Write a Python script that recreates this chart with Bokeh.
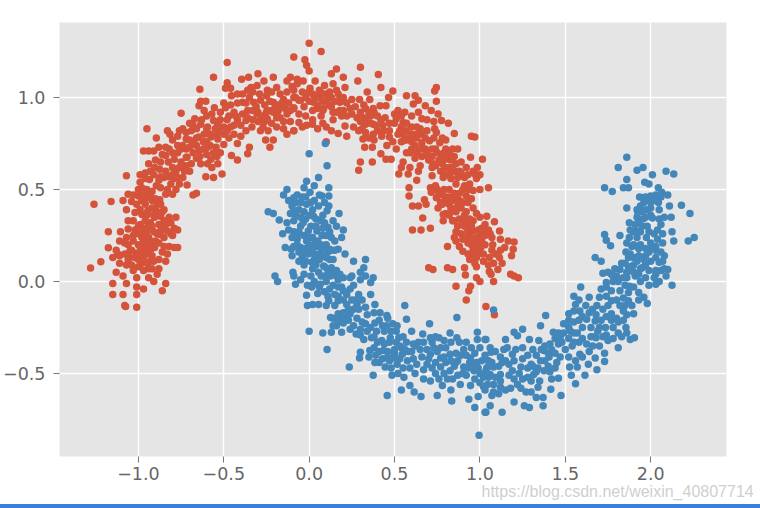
from bokeh.plotting import figure
from bokeh.layouts import column
from bokeh.embed import file_html
from bokeh.resources import INLINE
from bokeh.models import FixedTicker, Title, Div

# tick labels
x_ticks = [-1.0, -0.5, 0.0, 0.5, 1.0, 1.5, 2.0]
y_ticks = [-0.5, 0.0, 0.5, 1.0]
x_tick_labels = ["\u22121.0", "\u22120.5", "0.0", "0.5", "1.0", "1.5", "2.0"]
y_tick_labels = ["\u22120.5", "0.0", "0.5", "1.0"]

# upper moon
red_tail = [(-1.01,-.14),(-1.08,-.13),(-1.075,-.135),(-1.15,-.07),(-1.09,-.07),(-1.15,-.01),(-1.01,-.07),(-1.01,-.03),(-.97,-.04),(-1.01,.02),
 (-.94,.02),(-.91,0),(-.86,-.05),(-.84,-.01),(-1.13,.05),(-1.09,.03),(-1.07,-.01),(-1.07,.09),(-1.04,.09),(-.98,.10),(-.92,.07),(-.88,.07),
 (-.89,.04),(-.88,.12),(-.84,.11),(-.93,.11),(-1.28,.073),(-1.22,.107),(-1.15,.13),(-1.12,.15),(-1.08,.15),(-1.05,.165),(-1.01,.155),(-.98,.165),
 (-.95,.15),(-1.0,.20),(-.96,.20),(-.92,.20),(-1.08,.21),(-1.03,.22),(-.98,.24),(-.94,.24),(-.905,.185),(-.95,.275),(-.99,.31),(-1.06,.285),
 (-.82,.19),(-.79,.185),(-.77,.185),(-.87,.275),(-.83,.275),(-.85,.24),(-.77,.28),(-.78,.35),(-.81,.32),(-.875,.255),(-.80,.25),(-1.176,.271),
 (-1.105,.271),(-1.176,.184),(-.97,.22),(-.95,.18),(-.93,.17),(-.97,.13),(-1.0,.12),(-.96,.26)]
red_left = [(-1.26,.42),(-1.16,.435),(-1.09,.44),(-1.06,.475),(-1.04,.435),(-1.07,.39),(-1.02,.375),(-.98,.365),(-.93,.32),(-.905,.35),(-.87,.355),
 (-.85,.39),(-.89,.42),(-.92,.44),(-.96,.42),(-1.0,.465),(-.98,.51),(-.95,.455),(-.875,.445),(-.84,.475),(-.80,.475),(-.68,.47),(-.66,.48),(-.895,.385),
 (-.945,.385),(-.98,.44),(-1.07,.575),(-.99,.58),(-.96,.59),(-.905,.62),(-.875,.61),(-.935,.555),(-.895,.52),(-.87,.51),(-.85,.565),(-.81,.53),
 (-.78,.50),(-.77,.565),(-.74,.565),(-.715,.525),(-.70,.60),(-.78,.60),(-.825,.65),(-.79,.665),(-.75,.65),(-.715,.675),(-.94,.71),(-.97,.71),
 (-.91,.71),(-.88,.73),(-.895,.78),(-.95,.83),(-.84,.73),(-.84,.685),(-.83,.82),(-.815,.80),(-.77,.74),(-.76,.82),(-.72,.81),(-.69,.82),(-.72,.775),
 (-.68,.755),(-.645,.785),(-.615,.80),(-.595,.73),(-.645,.71),(-.68,.70),(-.72,.675),(-.635,.64),(-.595,.64),(-.605,.57),(-.56,.565),(-.51,.585),
 (-.535,.64),(-.575,.665),(-.545,.73),(-.535,.775),(-.50,.745),(-.575,.785),(-.455,.685),(-.42,.66),(-.36,.695),(-.35,.73),(-.42,.75),(-.40,.79),
 (-.44,.80),(-.48,.82),(-.50,.84),(-.535,.855),(-.56,.875),(-.595,.84),(-.635,.855),(-.67,.885),(-.68,.85),(-.75,.915),(-.64,1.045),(-.56,1.11),
 (-.48,1.19),(-.49,1.05),(-.48,1.08),(-.455,1.01),(-.635,.98),(-.605,.98),(-.645,.955),(-.615,.93),(-.555,.945),(-.49,.945),(-.44,.92),(-.39,1.02),
 (-.39,.975),(-.36,.93),(-.325,.975),(-.285,.985),(-.245,.93),(-.21,.975),(-.17,.955),(-.19,1.055),(-.13,1.09),(-.11,1.11),(-.09,1.22),(-.21,1.11),
 (-.30,1.13),(-.355,1.11),(-.395,1.10),(-.34,1.055),(-.305,1.065),(-.265,1.09),(-.245,1.04),(-.255,.77),(-.21,.77),(-.23,.73),(-.285,.82),(-.19,.84),
 (-.15,.83),(-.09,.82),(-.335,.84),(-.37,.875),(-.305,.91),(-.245,.885),(-.19,.89),(-.13,.91),(-.09,.945),(-.07,1.075),(-.06,.985),(-.62,.76),
 (-.66,.74),(-.60,.69),(-.54,.80),(-.47,.90),(-.42,.88),(-.33,.93),(-.26,.96),(-.18,.93),(-.23,.98),(-.15,.99),(-.74,.74),(-.80,.58),(-.87,.57)]
red_top = [(0,1.295),(.07,1.25),(-.025,1.205),(-.015,1.175),(0,1.145),(.16,1.155),(.13,1.13),(.30,1.165),(.405,1.125),(.285,1.09),(.42,1.055),(.20,1.11),
 (.14,1.075),(.09,1.065),(.035,1.09),(-.035,1.09),(-.07,1.10),(-.09,1.04),(.005,1.05),(.065,1.03),(.11,1.01),(.16,1.04),(.21,1.055),(.18,.99),(.25,.99),
 (.295,.99),(.34,1.03),(.355,.99),(.49,1.035),(.465,1.0),(.57,1.01),(.62,1.01),(.745,1.055),(.735,1.035),(.745,.98),(-.05,.985),(-.09,.94),(.025,.975),
 (.045,.94),(.085,.94),(.14,.92),(.18,.975),(.19,.90),(.25,.91),(.33,.94),(.375,.94),(.415,.955),(.45,.955),(.52,.93),(.56,.92),(.61,.965),(.64,.985),
 (.68,.955),(.715,.93),(.755,.91),(.775,.875),(.815,.86),(.445,.89),(.335,.875),(.375,.855),(.31,.83),(.33,.855),(.51,.885),(.55,.865),(.66,.885),(.57,.82),
 (.65,.83),(.69,.82),(.735,.83),(.745,.81),(.85,.805),(.95,.79),(.97,.785),(-.09,.82),(-.06,.865),(-.015,.85),(.02,.855),(.10,.84),(.13,.82),(.17,.805),
 (.22,.79),(.21,.845),(.10,.76),(.29,.82),(.315,.775),(.325,.73),(.37,.73),(.375,.80),(.425,.79),(.47,.785),(.455,.74),(.51,.72),(.42,.695),(.45,.665),
 (.48,.665),(.30,.65),(.37,.65),(.29,.605),(.55,.765),(.59,.785),(.62,.74),(.57,.70),(.55,.65),(.54,.62),(.525,.585),(.59,.62),(.58,.585),(.65,.63),(.64,.60),
 (.63,.55),(.66,.755),(.705,.765),(.685,.685),(.725,.64),(.72,.575),(.765,.755),(.775,.69),(.84,.72),(.815,.665),(.85,.68),(.795,.62),(.825,.585),(.785,.565),
 (.87,.565),(.91,.565),(.945,.675),(1.015,.665),(.985,.62),(.97,.585),(.86,.64),(.89,.59),(.06,1.0),(.03,1.01),(.10,.98),(.12,.96),(.0,.98),(.07,.90),
 (.60,.90),(.63,.84),(.60,.72),(.68,.72),(.74,.72),(.79,.70),(.78,.64),(.84,.62),(.83,.66),(.36,.90),(.40,.90),(.54,.84),(.60,.84)]
red_right = [(.585,.51),(.585,.465),(.605,.41),(.64,.41),(.675,.445),(.685,.42),(.71,.51),(.715,.485),(.745,.455),(.755,.40),(.805,.44),(.785,.365),(.84,.385),
 (.88,.44),(.92,.465),(.96,.40),(.96,.495),(1.0,.50),(1.05,.51),(1.04,.355),(.89,.40),(.84,.33),(.785,.33),(.90,.33),(.96,.33),(1.01,.29),(1.085,.325),(1.115,.275),
 (.665,.345),(.605,.28),(.655,.28),(.71,.29),(.81,.19),(.86,.22),(.90,.165),(.95,.20),(.99,.24),(.96,.275),(1.005,.185),(.98,.13),(1.075,.20),(1.055,.13),(1.115,.13),
 (1.165,.22),(1.20,.215),(1.195,.175),(1.185,.14),(1.145,.185),(.70,.075),(.725,.065),(.81,.075),(.84,.065),(.91,.075),(.915,.035),(.98,.08),(1.055,.055),(1.105,.065),
 (1.065,.04),(.98,.02),(1.0,0),(1.08,0),(1.18,.04),(1.20,.03),(1.225,.02),(.86,-.025),(.945,-.025),(.935,-.05),(.92,-.10),(1.035,-.135),(1.085,-.18),(.94,.25),
 (.97,.22),(1.0,.25),(.93,.28),(.98,.18),(.93,.15),(1.02,.15),(.82,.42),(.86,.38),(.91,.36),(.87,.30),(.93,.43),(1.0,.35),(.82,.46),(.77,.43),(1.05,.28)]
# the dense middle of the upper moon
red_dense_a = [(-.99,.26),(-1.02,.28),(-.97,.29),(-.94,.31),(-.96,.33),(-1.0,.26),(-.93,.22),(-.90,.22),(-.89,.26),(-.86,.30),(-.84,.31),(-.85,.33),(-1.04,.17),(-1.02,.13),(-1.05,.13),
 (-1.11,.14),(-.98,.13),(-.95,.10),(-.92,.14),(-.99,.19),(-1.0,.08),(-.90,.45),(-.92,.40),(-.95,.36),(-.90,.38),(-.87,.42),(-.86,.38),(-.88,.36),(-.91,.36),(-.93,.47),(-.97,.47),(-1.01,.42),
 (-.99,.39),(-.95,.50),(-.98,.47),(-.92,.49),(-.88,.55),(-.91,.58),(-.93,.60),(-.96,.56),(-.84,.60),(-.82,.57),(-.79,.56),(-.83,.50),(-.76,.53),(-.80,.62),(-.76,.62),(-.73,.60),(-.72,.63),
 (-.77,.70),(-.80,.70),(-.75,.72),(-.72,.72),(-.70,.73),(-.66,.78),(-.70,.77),(-.66,.67),(-.69,.64),(-.64,.68),(-.60,.76),(-.58,.74),(-.62,.72),(-.56,.70),(-.54,.68),(-.57,.62),(-.52,.70),
 (-.50,.80),(-.47,.78),(-.46,.84),(-.53,.82),(-.55,.83),(-.58,.80),(-.60,.83),(-.52,.88),(-.48,.88),(-.44,.85),(-.40,.85),(-.37,.82),(-.43,.90),(-.39,.91),(-.36,.89),(-.33,.88),(-.30,.87),
 (-.28,.88),(-.27,.90),(-.25,.92),(-.22,.93),(-.20,.94),(-.18,.96),(-.16,.97),(-.14,.94),(-.11,.93),(-.12,.97),(-.09,1.0),(-.21,.92),(-.19,.91),(-.17,.89),(-.22,.86),(-.27,.84),(-.31,.95),
 (-.29,1.02),(-.35,1.0),(-.37,.97),(-.33,1.03),(-.25,1.01),(-.22,1.03),(-.17,1.02),(-.13,1.03),(-.10,1.06),(-.08,1.0)]
red_dense_b = [(-.04,1.03),(-.02,1.0),(0.0,1.03),(.02,1.02),(.04,1.0),(.06,1.04),(.08,.98),(.09,1.02),(.12,1.03),(.13,1.0),(.15,.98),(.17,1.02),(.20,1.0),(.22,.97),(.05,.96),(.08,.93),(.02,.93),
 (-.02,.90),(.18,.93),(.14,.88),(.22,.90),(.30,.92),(.32,.96),(.35,.92),(.38,.92),(.32,.89),(.36,.86),(.39,.85),(.42,.88),(.47,.86),(.50,.91),(.54,.90),(.50,.86),(.53,.82),(.55,.80),(.57,.86),
 (.60,.80),(.63,.80),(.66,.80),(.63,.78),(.67,.72),(.63,.70),(.60,.76),(.66,.68),(.69,.70),(.72,.72),(.75,.70),(.72,.68),(.76,.66),(.79,.67),(.80,.72),(.82,.70),(.84,.67),(.82,.62),(.85,.60),
 (.80,.58),(.83,.56),(.86,.53),(.88,.60),(.91,.52),(.94,.53),(.96,.60),(.98,.56),(.76,.48),(.79,.50),(.82,.50),(.85,.48),(.88,.48),(.90,.50),(.93,.50),(.95,.45),(.78,.42),(.83,.40),(.87,.41),
 (.80,.37),(.88,.34),(.92,.38),(.94,.34),(.98,.37),(.91,.30),(.86,.27),(.89,.26),(.92,.24),(.95,.23),(.93,.21),(.96,.17),(.99,.20),(1.01,.22),(.98,.24),(.96,.14),(.99,.15),(.94,.12),(1.02,.27),
 (1.06,.26),(1.07,.17),(1.09,.15),(1.12,.17),(1.03,.20),(.97,.10),(1.08,.10),(.88,.19),(.93,.27),(1.03,.31)]
red_dense_c = [(-1.11,.22),(-1.06,.20),(-1.13,.17),(-1.03,.25),(-1.07,.24),(-1.0,.30),(-1.03,.33),(-1.06,.33),(-.91,.27),(-.92,.30),(-.88,.31),(-.85,.19),(-.88,.21),(-.86,.16),(-.83,.15),(-.81,.26),
 (-.79,.29),(-.82,.35),(-.97,.06),(-.94,.07),(-.91,.11),(-1.03,.06),(-1.06,.12),(-1.11,.10),(-1.0,.50),(-1.03,.47),(-.99,.54),(-.94,.64),(-.90,.66),(-.87,.65),(-.86,.69),(-.82,.72),(-.80,.77),
 (-.77,.79),(-.74,.83),(-.70,.86),(-.66,.83),(-.63,.88),(-.60,.90),(-.57,.91),(-.52,.92),(-.50,.97),(-.46,.96),(-.42,.97),(-.42,1.02),(-.46,1.05),(-.36,1.04),(-.30,.92),(-.26,.87),(-.24,.82),
 (-.15,.87),(-.11,.87),(-.06,.91),(-.03,.95),(-.13,.80),(-.04,.84),(.02,.88),(.05,.83),(.08,.86),(.13,.95),(.16,.92),(.20,.93),(.24,.94),(.27,.95),(.28,.89),(.26,.84),(.30,.87),(.33,.81),(.35,.78),
 (.38,.77),(.40,.82),(.43,.85),(.44,.82),(.47,.82),(.49,.76),(.52,.80),(.54,.76),(.57,.77),(.59,.70),(.62,.67),(.65,.72),(.70,.66),(.74,.63),(.77,.60),(.72,.62),(.68,.78),(.73,.78),(.78,.78),
 (.80,.77),(.64,.92),(.69,.88),(.73,.87),(.87,.72),(.89,.65),(.92,.62),(.93,.58),(1.0,.58),(.75,.50),(.74,.52),(.80,.46),(.78,.47),(.84,.44),(.86,.46),(.90,.43),(.82,.36),(.85,.33),(.92,.32),
 (.95,.30),(.85,.24),(.90,.23),(.99,.28),(1.03,.25),(1.02,.11),(1.05,.09),(1.13,.10),(1.12,.23),(1.07,.24)]

# lower moon
blue_left = [(.095,.75),(0,.695),(.105,.63),(.055,.565),(-.015,.545),(.03,.52),(.115,.51),(-.13,.50),(-.15,.47),(-.03,.51),(-.09,.455),(.005,.485),(.075,.465),(.115,.465),
 (-.05,.43),(-.09,.385),(-.015,.42),(.055,.41),(.115,.41),(.025,.355),(.105,.385),(.175,.37),(-.24,.38),(-.21,.37),(-.175,.335),(-.13,.32),(-.09,.33),(-.035,.32),(.14,.33),
 (.11,.295),(.20,.28),(-.155,.26),(.19,.24),(-.005,.275),(.045,.275),(-.07,.23),(.075,.25),(.13,.24),(-.14,.185),(-.105,.175),(-.05,.185),(-.015,.22),(.025,.20),(.065,.185),
 (.12,.175),(.17,.175),(.21,.15),(-.04,.13),(-.005,.15),(.045,.13),(.10,.13),(-.03,.09),(.015,.105),(.085,.085),(.13,.075),(.18,.04),(.055,.05),(.125,.03),(.26,.11),(.33,.12),
 (.32,.075),(.30,.05),(.25,.03),(.24,.02),(.375,.02),(.36,-.005),(-.20,.03),(-.185,0),(-.095,.05),(-.09,.03),(-.08,-.015),(-.05,.01),(.025,-.015),(.065,-.015),(.015,-.03),
 (-.015,-.075),(.05,-.065),(.09,-.055),(-.01,-.13),(.02,-.125),(.055,-.125),(.19,-.03),(.24,-.04),(.29,-.07),(.15,-.07),(.115,-.105),(.17,-.105),(.22,-.125),(.28,-.125),(.33,-.14),
 (.36,-.07),(.385,-.125),(.415,-.17),(.455,-.185),(.56,-.13),(.57,-.205),(.125,-.195),(.17,-.175),(.24,-.175),(.14,-.24),(.20,-.225),(.26,-.24),(.33,-.23),(.385,-.225),(.13,-.275),
 (.19,-.275),(.275,-.285),(.34,-.27),(.395,-.27),(.32,-.315),(.365,-.305),(0,-.27),(.08,-.28),(.105,-.37),(.02,.16),(.04,.19),(.06,.15),(.02,.24),(.03,.12),(.08,.18),(.07,.33),(.22,-.20),(.17,-.22)]
blue_mid = [(.455,-.24),(.515,-.24),(.425,-.32),(.475,-.305),(.525,-.305),(.435,-.375),(.30,-.385),(.355,-.375),(.295,-.415),(.385,-.44),(.235,-.465),(.375,-.51),(.445,-.465),(.495,-.415),
 (.545,-.395),(.515,-.45),(.575,-.43),(.485,-.51),(.555,-.52),(.62,-.50),(.61,-.34),(.60,-.27),(.665,-.285),(.705,-.23),(.865,-.195),(.71,-.305),(.76,-.305),(.825,-.28),(.865,-.305),(.65,-.37),
 (.71,-.395),(.77,-.415),(.825,-.395),(.905,-.37),(.985,-.275),(.985,-.315),(1.03,-.315),(1.00,-.36),(.945,-.415),(1.01,-.43),(.69,-.45),(.77,-.465),(.825,-.485),(.905,-.465),(.965,-.485),
 (1.06,-.505),(.67,-.53),(.78,-.565),(.885,-.56),(.945,-.565),(1.02,-.52),(.54,-.59),(.457,-.62),(.59,-.565),(.615,-.60),(.655,-.625),(.75,-.62),(.83,-.59),(.835,-.65),(.935,-.64),(.99,-.625),
 (.97,-.685),(1.03,-.71),(.995,-.835),(.50,-.37),(.54,-.36),(.46,-.41),(.58,-.38),(.74,-.44),(.80,-.44),(.86,-.44),(.92,-.51),(.98,-.44),(1.05,-.46)]
blue_bottom = [(1.035,-.315),(1.15,-.315),(1.14,-.37),(1.065,-.385),(1.19,-.395),(1.20,-.275),(1.25,-.26),(1.22,-.295),(1.29,-.315),(1.355,-.24),(1.385,-.185),(1.345,-.32),(1.375,-.375),
 (1.43,-.275),(1.47,-.305),(1.42,-.37),(1.46,-.34),(1.035,-.485),(1.08,-.465),(1.12,-.505),(1.19,-.485),(1.24,-.465),(1.30,-.45),(1.355,-.43),(1.405,-.41),(1.45,-.44),(1.315,-.505),(1.375,-.485),
 (1.42,-.53),(1.46,-.525),(1.045,-.56),(1.08,-.60),(1.12,-.575),(1.22,-.56),(1.27,-.60),(1.34,-.575),(1.415,-.585),(1.475,-.62),(1.37,-.63),(1.37,-.675),(1.20,-.655),(1.26,-.675),(1.29,-.685),
 (1.06,-.675),(1.035,-.71),(1.13,-.71),(1.525,-.465),(1.535,-.51),(1.57,-.465),(1.56,-.555),(1.615,-.51),(1.635,-.45),(1.685,-.48),(1.73,-.435),(1.73,-.39),(1.675,-.415),(1.09,-.52),(1.05,-.43),
 (1.28,-.52),(1.34,-.47),(1.40,-.46),(1.33,-.40),(1.08,-.155)]
blue_right = [(1.49,-.23),(1.52,-.175),(1.56,-.125),(1.585,-.16),(1.625,-.205),(1.59,-.03),(1.64,-.085),(1.53,-.27),(1.54,-.35),(1.585,-.395),(1.625,-.34),(1.68,-.305),(1.75,-.32),(1.81,-.36),
 (1.675,-.215),(1.735,-.25),(1.685,-.13),(1.70,-.085),(1.74,-.005),(1.72,.045),(1.77,-.105),(1.77,-.175),(1.81,-.28),(1.855,-.25),(1.905,-.305),(1.88,-.315),(1.90,-.175),(1.84,-.16),(1.82,-.05),
 (1.87,-.105),(1.875,-.025),(1.93,-.06),(1.98,-.12),(1.96,-.085),(1.93,.04),(1.82,.065),(1.855,.16),(1.90,.13),(1.97,.14),(1.95,.075),(2.03,-.015),(2.09,.03),(2.10,.065),(2.125,-.02),(1.675,.13),
 (1.71,.11),(1.765,.195),(1.73,.255),(1.74,.225),(1.82,.25),(1.875,.32),(1.915,.275),(1.955,.34),(1.875,.24),(1.975,.24),(2.01,.185),(2.07,.21),(2.08,.14),(2.05,.105),(2.135,.22),(2.125,.27),
 (2.22,.22),(2.255,.24),(2.23,.37),(2.18,.415),(2.12,.35),(2.11,.41),(2.06,.31),(2.01,.345),(1.925,.375),(1.975,.39),(1.86,.40),(2.045,.43),(2.00,.43),(1.955,.455),(1.935,.46),(2.00,.465),
 (2.065,.485),(2.10,.47),(2.045,.51),(1.965,.54),(1.99,.53),(2.01,.58),(2.09,.60),(2.135,.585),(1.955,.62),(1.92,.605),(1.86,.675),(1.81,.62),(1.86,.555),(1.73,.51),(1.775,.49),(1.84,.51),(1.87,.51),
 (1.78,.03),(1.86,.02),(1.90,.05),(1.94,.20),(1.90,.20),(2.03,.06),(1.80,-.20),(1.70,-.25),(1.60,-.25),(1.65,-.30)]
# the dense middle of the lower moon
blue_dense_a = [(-.08,.43),(-.07,.47),(-.04,.46),(-.06,.39),(-.02,.46),(.01,.43),(.03,.44),(.06,.47),(.09,.43),(-.12,.44),(-.10,.41),(-.03,.38),(.02,.39),(.08,.36),(-.06,.27),(-.05,.30),(-.07,.20),
 (-.06,.16),(-.03,.15),(-.02,.18),(.0,.20),(.0,.24),(.01,.17),(.03,.15),(.05,.22),(.06,.12),(.04,.09),(.08,.14),(.07,.20),(.10,.20),(.11,.16),(.13,.17),(.15,.17),(.12,.12),(.14,.12),(.09,.08),
 (.11,.06),(.14,.05),(.16,.06),(.07,.03),(.09,.03),(.16,.03),(.10,.0),(.17,-.03),(.20,-.05),(.22,-.07),(.17,-.08),(.20,-.10),(.25,-.10),(.27,-.10),(.26,-.15),(.29,-.15),(.23,-.15),(.20,-.17),
 (.14,-.20),(.18,-.20),(.23,-.21),(.28,-.20),(.31,-.22),(.16,-.24),(.24,-.26),(.30,-.26),(.36,-.25),(.38,-.30),(.30,-.29),(.44,-.27),(.48,-.27),(.47,-.33),(.51,-.33),(.44,-.34),(.40,-.33),
 (.46,-.38),(.50,-.39),(.43,-.42),(.47,-.43),(.39,-.40),(.35,-.41),(.41,-.44),(.53,-.42),(.53,-.35),(.57,-.33),(.60,-.38),(.62,-.35),(.64,-.33),(.67,-.33),(.66,-.41),(.69,-.37),(.70,-.42)]
blue_dense_b = [(.73,-.36),(.75,-.38),(.77,-.36),(.80,-.36),(.79,-.41),(.83,-.43),(.85,-.46),(.87,-.43),(.86,-.39),(.89,-.40),(.92,-.40),(.94,-.44),(.90,-.50),(.96,-.45),(.93,-.47),(.99,-.47),(1.0,-.50),
 (1.04,-.47),(1.07,-.44),(1.11,-.46),(1.13,-.44),(1.05,-.52),(1.08,-.56),(1.03,-.59),(1.0,-.55),(.97,-.53),(1.12,-.54),(1.17,-.51),(1.20,-.53),(1.23,-.50),(1.25,-.53),(1.28,-.47),(1.31,-.46),
 (1.33,-.49),(1.30,-.54),(1.35,-.54),(1.38,-.43),(1.40,-.39),(1.44,-.39),(1.41,-.34),(1.38,-.35),(1.36,-.37),(1.44,-.31),(1.46,-.28),(1.49,-.28),(1.52,-.25),(1.55,-.33),(1.58,-.33),(1.60,-.31),
 (1.57,-.28),(1.55,-.22),(1.52,-.21),(1.55,-.16),(1.60,-.19),(1.58,-.21),(1.67,-.30),(1.70,-.35),(1.72,-.30),(1.65,-.25),(1.68,-.18),(1.72,-.15),(1.75,-.13),(1.78,-.25),(1.81,-.22),(1.84,-.21),
 (1.86,-.18),(1.74,-.08),(1.77,-.05),(1.80,-.10),(1.84,-.09),(1.87,-.06),(1.78,.0),(1.80,.03),(1.84,.02),(1.87,.08),(1.89,.08),(1.91,.03),(1.94,.0),(1.97,.02),(1.99,.06),(2.03,.04),(1.92,.11),
 (1.85,.10),(1.88,.15),(1.93,.18),(1.97,.18),(2.0,.21),(2.03,.19),(2.03,.13),(2.06,.16),(1.92,.24),(1.94,.27),(1.98,.30),(1.91,.31),(1.92,.35),(2.04,.28),(2.05,.34),(1.95,.38),(2.0,.40),
 (1.97,.46),(2.03,.47),(1.96,.43)]
blue_dense_c = [(-.11,.37),(-.08,.36),(-.02,.34),(.0,.36),(.04,.34),(.09,.32),(-.05,.35),(-.12,.28),(-.10,.24),(-.09,.27),(-.07,.25),(-.03,.25),(.01,.30),(.04,.30),(.08,.29),(.12,.27),(.16,.30),(.10,.25),
 (.15,.22),(-.09,.19),(-.10,.14),(-.06,.11),(-.02,.11),(.02,.07),(.01,.03),(-.03,.04),(-.01,-.02),(.03,.0),(.06,-.03),(.12,-.04),(.14,-.02),(.11,-.08),(.10,-.13),(.15,-.13),(.17,.01),(.20,.02),
 (.26,-.02),(.30,.01),(.33,.03),(.31,-.10),(.34,-.18),(.38,-.17),(.41,-.21),(.43,-.24),(.46,-.20),(.51,-.27),(.49,-.23),(.55,-.30),(.56,-.37),(.61,-.42),(.59,-.47),(.55,-.47),(.52,-.50),(.48,-.47),
 (.41,-.38),(.38,-.36),(.63,-.45),(.67,-.48),(.72,-.47),(.74,-.50),(.71,-.54),(.76,-.53),(.79,-.50),(.81,-.53),(.84,-.53),(.87,-.51),(.72,-.33),(.74,-.30),(.79,-.32),(.83,-.33),(.88,-.33),(.92,-.33),
 (.95,-.36),(.97,-.39),(1.03,-.40),(1.06,-.36),(1.09,-.38),(1.12,-.41),(1.15,-.43),(1.17,-.45),(1.20,-.43),(1.25,-.42),(1.28,-.40),(1.31,-.37),(1.25,-.36),(1.21,-.37),(1.16,-.36)]
blue_dense_d = [(1.02,-.57),(1.07,-.62),(1.11,-.61),(1.15,-.59),(1.18,-.58),(1.24,-.58),(1.30,-.60),(1.33,-.63),(1.41,-.49),(1.44,-.47),(1.47,-.41),(1.50,-.37),(1.48,-.33),(1.52,-.31),(1.55,-.28),(1.52,-.41),
 (1.56,-.43),(1.60,-.41),(1.64,-.38),(1.66,-.35),(1.69,-.27),(1.71,-.21),(1.74,-.19),(1.77,-.21),(1.74,-.29),(1.78,-.31),(1.83,-.30),(1.86,-.28),(1.58,-.10),(1.62,-.13),(1.66,-.15),(1.55,-.08),(1.64,-.17),
 (1.71,-.04),(1.74,-.03),(1.82,-.13),(1.85,-.13),(1.89,-.13),(1.93,-.10),(1.90,-.03),(1.85,-.02),(1.81,.0),(1.77,.04),(1.75,.05),(1.79,.07),(1.83,.10),(1.86,.05),(1.90,.09),(1.94,.07),(1.97,.09),(2.0,.11),
 (2.02,.02),(2.05,.0),(2.06,.06),(2.08,.07),(1.99,-.02),(1.87,.13),(1.89,.19),(1.86,.21),(1.93,.14),(1.96,.12),(1.99,.16),(2.03,.17),(2.07,.11),(2.04,.23),(2.07,.26),(1.99,.27),(2.02,.26),(1.95,.30),
 (1.90,.27),(1.88,.28),(1.93,.33),(1.97,.35),(2.0,.36),(1.94,.41),(1.92,.39),(2.05,.39),(2.08,.35),(1.98,.45),(2.03,.44),(2.06,.46)]

red = red_tail + red_left + red_top + red_right + red_dense_a + red_dense_b + red_dense_c
blue = blue_left + blue_mid + blue_bottom + blue_right + blue_dense_a + blue_dense_b + blue_dense_c + blue_dense_d
red_x = [pt[0] for pt in red]
red_y = [pt[1] for pt in red]
blue_x = [pt[0] for pt in blue]
blue_y = [pt[1] for pt in blue]

p = figure(width=760, height=504, output_backend="svg", toolbar_location=None,
           x_range=(-1.462, 2.444), y_range=(-0.951, 1.408),
           min_border_left=58, min_border_right=34, min_border_top=22, min_border_bottom=48)

p.background_fill_color = "#e5e5e5"
p.border_fill_color = "white"
p.outline_line_color = None

p.xaxis.ticker = FixedTicker(ticks=x_ticks)
p.yaxis.ticker = FixedTicker(ticks=y_ticks)
p.xaxis.major_label_overrides = dict(zip(x_ticks, x_tick_labels))
p.yaxis.major_label_overrides = dict(zip(y_ticks, y_tick_labels))
p.xgrid.ticker = FixedTicker(ticks=x_ticks)
p.ygrid.ticker = FixedTicker(ticks=y_ticks)
p.grid.grid_line_color = "white"
p.grid.grid_line_width = 1.5

for ax in [p.xaxis, p.yaxis]:
    ax.axis_line_color = None
    ax.minor_tick_line_color = None
    ax.major_tick_line_color = "#777777"
    ax.major_tick_in = 0
    ax.major_tick_out = 6
    ax.major_label_text_color = "#666666"
    ax.major_label_text_font = "DejaVu Sans"
    ax.major_label_text_font_size = "17.5px"
p.xaxis.major_label_standoff = 4
p.yaxis.major_label_standoff = 8

p.scatter(red_x, red_y, size=7.5, color="#d5533a", line_color=None)
p.scatter(blue_x, blue_y, size=7.5, color="#4387ba", line_color=None)

# csdn watermark under the axis, blue strip along the bottom of the screenshot
mark = Title(text="https://blog.csdn.net/weixin_40807714", align="left", offset=422, standoff=0, vertical_align="top",
             text_font="Liberation Sans", text_font_size="16px", text_font_style="normal", text_color="#cfcfcf")
p.add_layout(mark, "below")
strip = Div(width=760, height=4, margin=0, styles={"background-color": "#3b7fdc"})

open("out.html", "w").write(file_html(column(p, strip, spacing=0), INLINE))
